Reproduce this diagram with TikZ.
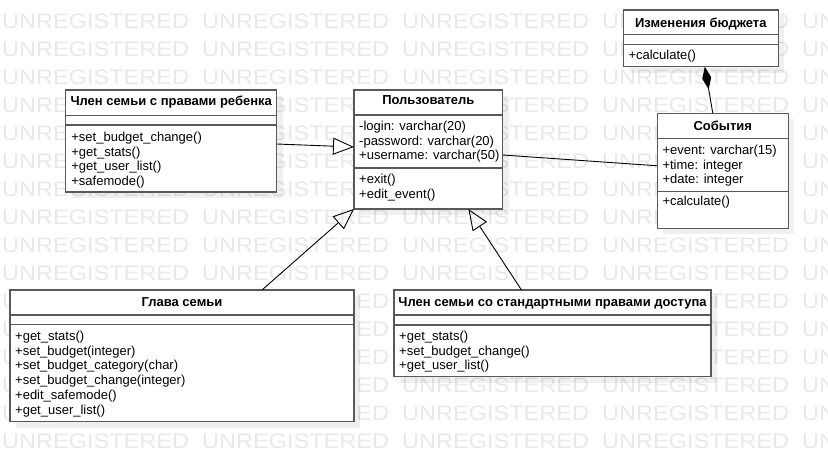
\documentclass[tikz,border=0pt]{standalone}
\usepackage{fontspec}
\setmainfont{Liberation Sans}
\usetikzlibrary{arrows.meta,positioning,shadows}

\begin{document}
\begin{tikzpicture}[x=1pt,y=-1pt,
  classbox/.style={draw=black!65,line width=1.3pt,fill=white,inner sep=0pt,outer sep=0pt,anchor=north west,
    drop shadow={shadow xshift=6pt,shadow yshift=-6pt,fill=black,opacity=0.06}},
  sepline/.style={draw=black!65,line width=1.3pt},
  title/.style={anchor=base,inner sep=0pt,font=\bfseries\fontsize{13}{15}\selectfont},
  member/.style={anchor=base west,inner sep=0pt,align=left,font=\fontsize{13}{14.7}\selectfont},
  inherit/.style={line width=0.9pt,-{Triangle[open,length=21pt,width=17pt]}},
  assoc/.style={line width=0.9pt},
  compose/.style={line width=0.9pt,-{Diamond[length=23pt,width=9pt]}},
  watermark/.style={anchor=base west,inner sep=0pt,text=black!9,font=\fontsize{21}{21}\selectfont}]

\useasboundingbox (0,0) rectangle (828,462);

% watermark
\foreach \row in {0,...,15}
  \foreach \col in {0,...,4}
    \node[watermark] (wm-\row-\col) at (2+200*\col,28.3+28*\row) {\scalebox{1.12}[1]{UNREGISTERED}};

% classes
\node[classbox,minimum width=211pt,minimum height=102pt] (child) at (65.7,90) {};
\node[classbox,minimum width=148.7pt,minimum height=119pt] (user) at (354,90) {};
\node[classbox,minimum width=155pt,minimum height=56.7pt] (budget) at (623.3,10) {};
\node[classbox,minimum width=131pt,minimum height=115pt] (events) at (657.3,113.3) {};
\node[classbox,minimum width=344pt,minimum height=131.7pt] (head) at (10,290) {};
\node[classbox,minimum width=317pt,minimum height=86.7pt] (std) at (394,290) {};

% compartments
\draw[sepline] (child.west |- 0,115.7) -- (child.east |- 0,115.7);
\draw[sepline] (child.west |- 0,125) -- (child.east |- 0,125);
\draw[sepline] (user.west |- 0,115) -- (user.east |- 0,115);
\draw[sepline] (user.west |- 0,168) -- (user.east |- 0,168);
\draw[sepline] (budget.west |- 0,34.3) -- (budget.east |- 0,34.3);
\draw[sepline] (budget.west |- 0,44.3) -- (budget.east |- 0,44.3);
\draw[sepline] (events.west |- 0,138.3) -- (events.east |- 0,138.3);
\draw[sepline] (events.west |- 0,191.7) -- (events.east |- 0,191.7);
\draw[sepline] (head.west |- 0,315) -- (head.east |- 0,315);
\draw[sepline] (head.west |- 0,324.3) -- (head.east |- 0,324.3);
\draw[sepline] (std.west |- 0,315) -- (std.east |- 0,315);
\draw[sepline] (std.west |- 0,325) -- (std.east |- 0,325);

% titles
\node[title] (childT) at (child.north |- 0,106) {Член семьи с правами ребенка};
\node[title] (userT) at (user.north |- 0,105) {Пользователь};
\node[title] (budgetT) at (budget.north |- 0,27.6) {Изменения бюджета};
\node[title] (eventsT) at (events.north |- 0,131) {События};
\node[title] (headT) at (head.north |- 0,306.6) {Глава семьи};
\node[title] (stdT) at (std.north |- 0,306.6) {Член семьи со стандартными правами доступа};

% members (y = baseline of last line)
\node[member] (childM) at (71.2,185.6) {+set\_budget\_change()\\+get\_stats()\\+get\_user\_list()\\+safemode()};
\node[member] (userA) at (359,159.9) {-login: varchar(20)\\-password: varchar(20)\\+username: varchar(50)};
\node[member] (userM) at (359,198.2) {+exit()\\+edit\_event()};
\node[member] (budgetM) at (628.3,59.5) {+calculate()};
\node[member] (eventsA) at (662.3,183.9) {+event: varchar(15)\\+time: integer\\+date: integer};
\node[member] (eventsM) at (662.3,206) {+calculate()};
\node[member] (headM) at (15,414) {+get\_stats()\\+set\_budget(integer)\\+set\_budget\_category(char)\\+set\_budget\_change(integer)\\+edit\_safemode()\\+get\_user\_list()};
\node[member] (stdM) at (399,369.9) {+get\_stats()\\+set\_budget\_change()\\+get\_user\_list()};

% relations
\draw[inherit] ([yshift=-3pt]child.east) -- ([yshift=2.5pt]user.west);
\draw[inherit] ([xshift=80pt]head.north) -- (user.south west);
\draw[inherit] ([xshift=-31pt]std.north) -- ([xshift=40pt]user.south);
\draw[assoc] ([yshift=-5.5pt]user.east) -- ([yshift=5pt]events.west);
\draw[compose] ([xshift=-10pt]events.north) -- ([xshift=4pt]budget.south);
\end{tikzpicture}
\end{document}
